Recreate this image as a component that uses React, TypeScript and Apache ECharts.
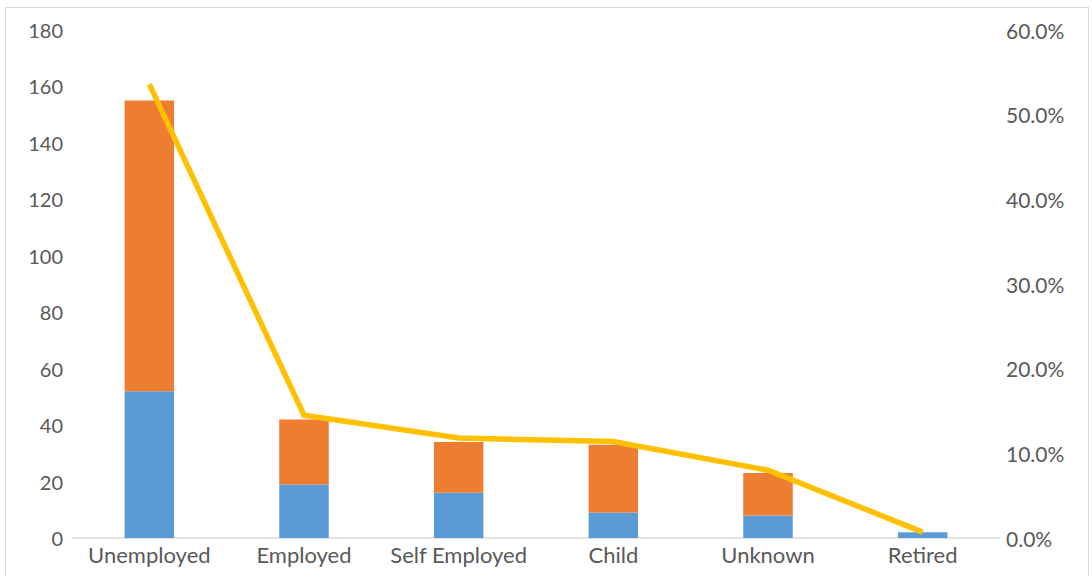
import React, { useEffect, useRef } from "react";
import * as echarts from "echarts";

const categories = ["Unemployed", "Employed", "Self Employed", "Child", "Unknown", "Retired"];
const blueValues = [52, 19, 16, 9, 8, 2];
const orangeValues = [103, 23, 18, 24, 15, 0];
const percentValues = [53.6, 14.5, 11.8, 11.4, 8.0, 0.7];

export default function App() {
  const ref = useRef<HTMLDivElement>(null);
  useEffect(() => {
    if (!ref.current) return;
    const chart = echarts.init(ref.current, undefined, { renderer: "svg" });
    const base = { color: "#595959", fontFamily: "Lato" };
    chart.setOption({
      animation: false,
      backgroundColor: "#ffffff",
      grid: { left: 72, right: 92, top: 30, bottom: 38, containLabel: false },
      xAxis: {
        type: "category",
        data: categories,
        axisLine: { lineStyle: { color: "#D9D9D9", width: 1.5 } },
        axisTick: { show: false },
        axisLabel: { ...base, fontSize: 22, margin: 5, interval: 0, hideOverlap: false },
      },
      yAxis: [
        {
          type: "value",
          min: 0,
          max: 180,
          interval: 20,
          splitLine: { show: false },
          axisLine: { show: false },
          axisTick: { show: false },
          axisLabel: { ...base, fontSize: 20, margin: 9 },
        },
        {
          type: "value",
          min: 0,
          max: 60,
          interval: 10,
          position: "right",
          splitLine: { show: false },
          axisLine: { show: false },
          axisTick: { show: false },
          axisLabel: { ...base, fontSize: 21, margin: 6, formatter: (v: number) => v.toFixed(1) + "%" },
        },
      ],
      series: [
        {
          type: "bar",
          stack: "total",
          data: blueValues,
          barWidth: "32%",
          itemStyle: { color: "#5B9BD5" },
        },
        {
          type: "bar",
          stack: "total",
          data: orangeValues,
          barWidth: "32%",
          itemStyle: { color: "#ED7D31" },
        },
        {
          type: "line",
          yAxisIndex: 1,
          data: percentValues,
          symbol: "none",
          lineStyle: { color: "#FFC000", width: 5.5, cap: "butt", join: "miter" },
        },
      ],
    });
    return () => chart.dispose();
  }, []);
  return (
    <div style={{ position: "absolute", left: 0, top: 0, width: 1092, height: 576, background: "#fff", overflow: "hidden" }}>
      <div ref={ref} style={{ position: "absolute", left: 0, top: 0, width: 1092, height: 576 }} />
      <div
        style={{
          position: "absolute",
          left: 5,
          top: 7,
          width: 1082,
          height: 600,
          border: "1px solid #D9D9D9",
          pointerEvents: "none",
        }}
      />
    </div>
  );
}
